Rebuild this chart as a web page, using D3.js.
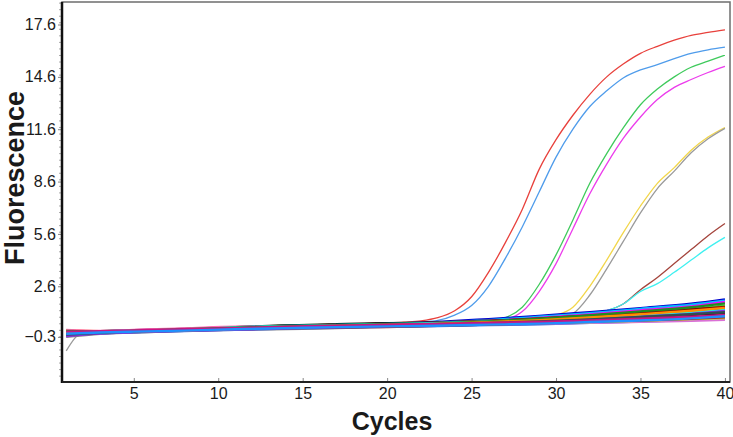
<!DOCTYPE html>
<html>
<head>
<meta charset="utf-8">
<script src="https://cdn.jsdelivr.net/npm/d3@7"></script>
<style>
  html, body { margin: 0; padding: 0; background: #fff; }
  svg { display: block; }
  text { font-family: "Liberation Sans", Arial, sans-serif; fill: #1a1a1a; }
</style>
</head>
<body>
<svg id="chart" width="733" height="437"></svg>
<script>
// tick labels
const xTicks = [5, 10, 15, 20, 25, 30, 35, 40];
const yTicks = [-0.3, 2.6, 5.6, 8.6, 11.6, 14.6, 17.6];

// cycles sampled for the amplified curves and for the flat (baseline) curves
const ampCycles = [1, 2, 5, 10, 15, 20, 21, 22, 23, 24, 25, 26, 27, 28, 29, 30,
  31, 32, 33, 34, 35, 36, 37, 38, 39, 40];
const baseCycles = [1, 3, 5, 8, 11, 14, 17, 20, 23, 26, 29, 32, 35, 38, 40];

// amplified samples
const ampNames = ["red", "blue", "green", "magenta", "yellow", "grey", "brown", "cyan"];
const ampColors = ["#e8413c", "#4f9ceb", "#3fca5c", "#ec3cec", "#f2d64a", "#9a9a9a", "#a4443c", "#3ff0f0"];
const ampValues = [
  [-0.05, 0.0, 0.08, 0.22, 0.38, 0.5, 0.55, 0.62, 0.8, 1.2, 2.0, 3.4, 5.1, 7.0, 9.3, 11.0, 12.4, 13.6, 14.6, 15.35, 15.95, 16.35, 16.7, 16.98, 17.15, 17.3],
  [-0.1, -0.02, 0.05, 0.2, 0.35, 0.48, 0.52, 0.56, 0.65, 0.95, 1.5, 2.6, 4.2, 6.0, 8.0, 10.0, 11.6, 12.9, 13.8, 14.55, 15.0, 15.3, 15.65, 15.95, 16.15, 16.3],
  [0.0, 0.02, 0.1, 0.25, 0.4, 0.45, 0.48, 0.5, 0.52, 0.55, 0.58, 0.62, 0.8, 1.4, 2.7, 4.4, 6.4, 8.5, 10.2, 11.7, 13.0, 13.9, 14.6, 15.15, 15.5, 15.85],
  [-0.08, 0.0, 0.06, 0.2, 0.32, 0.46, 0.48, 0.5, 0.54, 0.56, 0.6, 0.64, 0.72, 1.15, 2.3, 3.9, 5.9, 7.9, 9.6, 11.1, 12.3, 13.3, 14.0, 14.45, 14.85, 15.2],
  [-0.12, -0.04, 0.03, 0.18, 0.3, 0.42, 0.45, 0.48, 0.5, 0.54, 0.58, 0.6, 0.64, 0.7, 0.78, 0.95, 1.4, 2.6, 4.1, 5.7, 7.2, 8.5, 9.4, 10.4, 11.15, 11.7],
  [-1.1, -0.05, 0.04, 0.15, 0.3, 0.4, 0.42, 0.45, 0.48, 0.5, 0.55, 0.58, 0.62, 0.66, 0.72, 0.8, 1.05, 2.1, 3.6, 5.2, 6.8, 8.2, 9.2, 10.25, 11.05, 11.65],
  [-0.2, -0.06, 0.02, 0.16, 0.28, 0.38, 0.4, 0.44, 0.48, 0.52, 0.56, 0.6, 0.64, 0.7, 0.76, 0.82, 0.9, 1.0, 1.2, 1.6, 2.4, 3.1, 3.9, 4.7, 5.5, 6.2],
  [-0.15, -0.04, 0.04, 0.18, 0.3, 0.4, 0.42, 0.45, 0.5, 0.52, 0.55, 0.6, 0.65, 0.7, 0.76, 0.84, 0.92, 1.02, 1.2, 1.6, 2.3, 2.75, 3.4, 4.1, 4.8, 5.4]
];

// non-amplified samples
const baseColors = ["#0000cd", "#00bfff", "#ff00ff", "#32cd32", "#ff0000", "#8b0000", "#000080",
  "#9370db", "#ffa500", "#ffd700", "#808080", "#000000", "#7fff00", "#ff69b4", "#008080",
  "#4169e1", "#da70d6", "#adff2f", "#b22222", "#00ffff", "#8a2be2", "#228b22", "#ff8c00",
  "#2f4f4f", "#c71585", "#1e90ff"];
const baseValues = [
  [-0.05, 0.0, 0.02, 0.12, 0.2, 0.28, 0.35, 0.42, 0.55, 0.72, 0.9, 1.12, 1.35, 1.6, 1.85],
  [-0.1, -0.02, 0.05, 0.1, 0.22, 0.3, 0.33, 0.45, 0.5, 0.66, 0.85, 1.05, 1.3, 1.55, 1.78],
  [0.05, 0.02, 0.08, 0.15, 0.18, 0.25, 0.38, 0.4, 0.48, 0.6, 0.78, 0.98, 1.22, 1.45, 1.7],
  [-0.2, -0.1, 0.0, 0.08, 0.15, 0.22, 0.3, 0.35, 0.45, 0.58, 0.72, 0.9, 1.1, 1.3, 1.5],
  [-0.15, -0.05, 0.02, 0.1, 0.2, 0.25, 0.28, 0.38, 0.42, 0.55, 0.68, 0.85, 1.02, 1.25, 1.42],
  [0.0, -0.03, 0.04, 0.14, 0.25, 0.32, 0.4, 0.45, 0.52, 0.62, 0.75, 0.92, 1.08, 1.28, 1.38],
  [-0.25, -0.08, -0.02, 0.05, 0.12, 0.2, 0.22, 0.3, 0.38, 0.5, 0.62, 0.78, 0.95, 1.12, 1.3],
  [-0.08, 0.0, 0.05, 0.1, 0.18, 0.3, 0.35, 0.4, 0.45, 0.52, 0.64, 0.78, 0.92, 1.08, 1.22],
  [0.08, 0.03, 0.06, 0.12, 0.22, 0.28, 0.3, 0.42, 0.48, 0.55, 0.6, 0.72, 0.88, 1.02, 1.15],
  [-0.12, -0.06, 0.0, 0.08, 0.14, 0.18, 0.26, 0.32, 0.4, 0.48, 0.55, 0.66, 0.8, 0.95, 1.08],
  [-0.3, -0.12, -0.05, 0.05, 0.1, 0.15, 0.2, 0.28, 0.35, 0.42, 0.5, 0.6, 0.72, 0.88, 1.0],
  [-0.02, 0.02, 0.08, 0.16, 0.26, 0.35, 0.42, 0.48, 0.5, 0.55, 0.58, 0.68, 0.78, 0.9, 0.98],
  [-0.18, -0.04, 0.03, 0.1, 0.16, 0.24, 0.3, 0.36, 0.38, 0.45, 0.52, 0.6, 0.7, 0.82, 0.92],
  [0.1, 0.04, 0.1, 0.18, 0.28, 0.3, 0.36, 0.4, 0.42, 0.48, 0.5, 0.58, 0.66, 0.78, 0.86],
  [-0.1, -0.02, 0.02, 0.08, 0.18, 0.22, 0.25, 0.3, 0.35, 0.4, 0.45, 0.52, 0.6, 0.7, 0.8],
  [-0.22, -0.1, -0.04, 0.04, 0.1, 0.18, 0.24, 0.28, 0.32, 0.38, 0.42, 0.5, 0.58, 0.66, 0.74],
  [-0.05, 0.0, 0.06, 0.12, 0.16, 0.22, 0.3, 0.32, 0.38, 0.42, 0.46, 0.5, 0.56, 0.62, 0.68],
  [0.02, 0.0, 0.04, 0.1, 0.2, 0.26, 0.28, 0.35, 0.4, 0.44, 0.5, 0.55, 0.62, 0.72, 0.78],
  [-0.14, -0.06, 0.0, 0.06, 0.14, 0.2, 0.25, 0.27, 0.33, 0.4, 0.48, 0.56, 0.64, 0.74, 0.82],
  [-0.06, 0.02, 0.04, 0.1, 0.24, 0.32, 0.38, 0.44, 0.5, 0.58, 0.68, 0.8, 0.94, 1.1, 1.24],
  [-0.26, -0.1, -0.03, 0.06, 0.12, 0.2, 0.26, 0.32, 0.4, 0.5, 0.6, 0.72, 0.86, 1.02, 1.18],
  [0.04, 0.0, 0.05, 0.14, 0.22, 0.3, 0.36, 0.42, 0.46, 0.58, 0.74, 0.94, 1.16, 1.4, 1.62],
  [-0.08, -0.04, 0.02, 0.08, 0.16, 0.26, 0.32, 0.38, 0.44, 0.54, 0.66, 0.82, 1.0, 1.2, 1.36],
  [-0.16, -0.06, 0.02, 0.1, 0.18, 0.24, 0.3, 0.34, 0.4, 0.5, 0.58, 0.7, 0.84, 1.0, 1.12],
  [0.0, 0.02, 0.07, 0.14, 0.2, 0.28, 0.34, 0.4, 0.44, 0.5, 0.56, 0.64, 0.74, 0.86, 0.96],
  [-0.12, -0.05, 0.0, 0.06, 0.14, 0.2, 0.26, 0.3, 0.34, 0.4, 0.46, 0.55, 0.64, 0.76, 0.88]
];

const plot = { left: 62, right: 730, top: 2, bottom: 382 };

const svg = d3.select("#chart");

const x = d3.scaleLinear().domain([0.75, 40.3]).range([plot.left, plot.right]);
const y = d3.scaleLinear().domain([-2.886, 18.89]).range([plot.bottom, plot.top]);

const line = d3.line()
  .x((d) => x(d[0]))
  .y((d) => y(d[1]))
  .curve(d3.curveMonotoneX);

const curves = svg.append("g");

// amplified curves underneath, flat band drawn over them
curves.selectAll(".amp")
  .data(ampValues)
  .enter()
  .append("path")
  .attr("class", "amp")
  .attr("fill", "none")
  .attr("stroke", (d, i) => ampColors[i])
  .attr("stroke-width", 1.3)
  .attr("stroke-linejoin", "round")
  .attr("d", (vals) => line(vals.map((v, j) => [ampCycles[j], v])));

curves.selectAll(".base")
  .data(baseValues)
  .enter()
  .append("path")
  .attr("class", "base")
  .attr("fill", "none")
  .attr("stroke", (d, i) => baseColors[i % baseColors.length])
  .attr("stroke-width", 2.4)
  .attr("stroke-linejoin", "round")
  .attr("d", (vals) => line(vals.map((v, j) => [baseCycles[j], v])));

// frame
svg.append("rect")
  .attr("x", plot.left)
  .attr("y", plot.top)
  .attr("width", plot.right - plot.left)
  .attr("height", plot.bottom - plot.top)
  .attr("fill", "none")
  .attr("stroke", "#6e6e6e")
  .attr("stroke-width", 1.5);

// minor y ticks
const minor = d3.range(-2.55, 18.9, 0.375);
svg.append("g")
  .selectAll("line")
  .data(minor)
  .enter()
  .append("line")
  .attr("x1", plot.left - 3)
  .attr("x2", plot.left)
  .attr("y1", (d) => y(d))
  .attr("y2", (d) => y(d))
  .attr("stroke", "#aaa")
  .attr("stroke-width", 1);

const yAxis = svg.append("g")
  .attr("transform", "translate(" + plot.left + ",0)")
  .call(d3.axisLeft(y).tickValues(yTicks).tickFormat(d3.format(".1f")).tickSize(4).tickPadding(2));

const xAxis = svg.append("g")
  .attr("transform", "translate(0," + plot.bottom + ")")
  .call(d3.axisBottom(x).tickValues(xTicks).tickSize(-4).tickPadding(6));

[yAxis, xAxis].forEach((a) => {
  a.select(".domain").remove();
  a.selectAll("line").attr("stroke", "#888");
  a.selectAll("text")
    .style("font-family", "'Liberation Sans', Arial, sans-serif")
    .style("font-size", "16px")
    .attr("fill", "#1a1a1a");
});

// axis lines
svg.append("line")
  .attr("x1", plot.left).attr("x2", plot.left)
  .attr("y1", plot.top).attr("y2", plot.bottom + 1)
  .attr("stroke", "#111").attr("stroke-width", 2.5);
svg.append("line")
  .attr("x1", plot.left).attr("x2", plot.right)
  .attr("y1", plot.bottom).attr("y2", plot.bottom)
  .attr("stroke", "#222").attr("stroke-width", 2);

// titles
svg.append("text")
  .attr("transform", "translate(24,178) rotate(-90)")
  .attr("text-anchor", "middle")
  .style("font-size", "27px")
  .style("font-weight", "bold")
  .text("Fluorescence");

svg.append("text")
  .attr("x", 392)
  .attr("y", 430)
  .attr("text-anchor", "middle")
  .style("font-size", "25px")
  .style("font-weight", "bold")
  .text("Cycles");
</script>
</body>
</html>
